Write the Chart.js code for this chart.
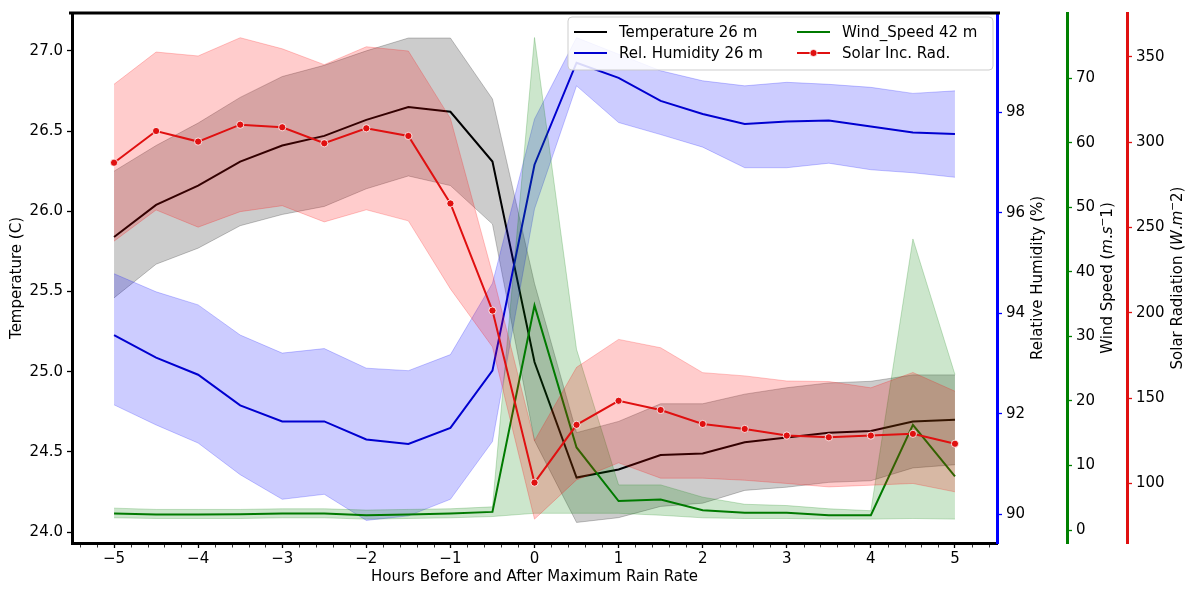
<!DOCTYPE html>
<html><head><meta charset="utf-8">
<script src="https://cdn.jsdelivr.net/npm/chart.js@4.4.1/dist/chart.umd.min.js"></script>
<style>html,body{margin:0;padding:0;background:#fff;}#wrap{width:1191px;height:589px;}</style>
</head><body><div id="wrap"><canvas id="c" width="1191" height="589"></canvas></div>
<script>
const hours = [-5,-4.5,-4,-3.5,-3,-2.5,-2,-1.5,-1,-0.5,0,0.5,1,1.5,2,2.5,3,3.5,4,4.5,5];

const tempMean  = [25.84,26.04,26.16,26.31,26.41,26.47,26.57,26.65,26.62,26.31,25.06,24.34,24.39,24.48,24.49,24.56,24.59,24.62,24.63,24.69,24.70];
const tempUpper = [26.25,26.41,26.55,26.71,26.84,26.91,27.00,27.08,27.08,26.70,25.55,24.62,24.69,24.80,24.80,24.86,24.90,24.93,24.94,24.98,24.98];
const tempLower = [25.46,25.67,25.77,25.91,25.98,26.03,26.14,26.22,26.16,25.92,24.57,24.06,24.09,24.16,24.18,24.26,24.28,24.31,24.32,24.40,24.42];

const humMean  = [93.57,93.12,92.78,92.17,91.85,91.85,91.49,91.40,91.72,92.86,96.96,98.99,98.69,98.23,97.97,97.77,97.82,97.84,97.72,97.60,97.57];
const humUpper = [94.79,94.43,94.17,93.57,93.21,93.30,92.91,92.86,93.18,94.60,97.87,99.49,99.16,98.83,98.63,98.53,98.60,98.56,98.50,98.38,98.43];
const humLower = [92.18,91.78,91.42,90.79,90.30,90.40,89.88,89.97,90.30,91.45,96.08,98.53,97.80,97.56,97.31,96.90,96.90,96.99,96.86,96.80,96.71];

const windMean  = [2.57,2.42,2.42,2.47,2.57,2.57,2.31,2.42,2.57,2.82,34.8,12.8,4.5,4.73,3.08,2.67,2.67,2.31,2.31,16.3,8.32];
const windUpper = [3.4,3.2,3.2,3.2,3.3,3.3,3.1,3.2,3.3,3.6,76.3,28.0,7.0,7.0,5.1,4.0,3.8,3.3,3.0,45.1,24.1];
const windLower = [1.9,1.8,1.8,1.8,1.9,1.9,1.7,1.8,1.9,2.1,2.6,2.6,2.6,2.3,1.9,1.8,1.8,1.7,1.7,1.8,1.7];

const solarMean  = [288.0,306.6,300.4,310.3,308.8,299.4,308.2,303.7,264.1,201.3,100.4,134.3,148.4,143.0,134.8,131.9,128.0,127.0,128.0,129.0,123.2];
const solarUpper = [334.0,352.9,350.6,361.3,354.8,345.5,356.0,353.5,314.0,223.0,125.0,168.0,184.4,179.5,164.9,163.0,160.0,159.7,156.0,165.0,154.0];
const solarLower = [242.0,260.3,250.2,259.3,262.8,253.3,260.4,253.9,214.0,180.0,79.0,102.0,112.0,103.0,103.0,101.8,99.9,97.9,98.9,99.9,95.0];

const hourTicks  = [-5,-4,-3,-2,-1,0,1,2,3,4,5];
const tempTicks  = [24.0,24.5,25.0,25.5,26.0,26.5,27.0];
const humTicks   = [90,92,94,96,98];
const windTicks  = [0,10,20,30,40,50,60,70];
const solarTicks = [100,150,200,250,300,350];

const FONT = '"DejaVu Sans", sans-serif';
Chart.defaults.font.family = FONT;
Chart.defaults.color = '#000';

const pts = arr => hours.map((h, i) => ({x: h, y: arr[i]}));

function bandSets(upper, lower, axis, rgb, order) {
  return [
    {label: '_u', data: pts(upper), yAxisID: axis, fill: '+1', backgroundColor: `rgba(${rgb},0.2)`,
     borderColor: `rgba(${rgb},0.22)`, borderWidth: 1, pointRadius: 0, order: order},
    {label: '_l', data: pts(lower), yAxisID: axis, fill: false,
     borderColor: `rgba(${rgb},0.22)`, borderWidth: 1, pointRadius: 0, order: order + 1}
  ];
}

const datasets = [
  ...bandSets(tempUpper, tempLower, 'yT', '0,0,0', 12),
  {label: 'Temperature 26 m', data: pts(tempMean), yAxisID: 'yT', borderColor: '#000', borderWidth: 2, pointRadius: 0, fill: false, order: 11},
  ...bandSets(humUpper, humLower, 'yH', '0,0,255', 9),
  {label: 'Rel. Humidity 26 m', data: pts(humMean), yAxisID: 'yH', borderColor: '#0000d0', borderWidth: 2, pointRadius: 0, fill: false, order: 8},
  ...bandSets(windUpper, windLower, 'yW', '0,128,0', 6),
  {label: 'Wind_Speed 42 m', data: pts(windMean), yAxisID: 'yW', borderColor: '#007a00', borderWidth: 2, pointRadius: 0, fill: false, order: 5},
  ...bandSets(solarUpper, solarLower, 'yS', '255,0,0', 3),
  {label: 'Solar Inc. Rad.', data: pts(solarMean), yAxisID: 'yS', borderColor: '#e01010', borderWidth: 2,
   pointRadius: 3.6, pointBackgroundColor: '#e01010', pointBorderColor: '#fff', pointBorderWidth: 0.8, fill: false, order: 1}
];

const minorTicks = [];
for (let i = -27; i <= 27; i++) minorTicks.push(Math.round(i * 2) / 10);
const isMajor = v => hourTicks.some(t => Math.abs(t - v) < 1e-6);
const fmtNum = v => (v < 0 ? '\u2212' : '') + Math.abs(v);

function yAxis(pos, min, max, tickArr, color, width, weight, fmt) {
  return {
    type: 'linear', position: pos, min: min, max: max, weight: weight,
    afterBuildTicks: ax => { ax.ticks = tickArr.map(v => ({value: v})); },
    afterFit: s => { s.width = width; },
    ticks: {font: {size: 15}, color: '#000', padding: 4, callback: fmt},
    grid: {drawOnChartArea: false, drawTicks: true, tickLength: 5, tickWidth: 1.3, tickColor: color},
    border: {display: true, color: color, width: 3}
  };
}

function drawRich(ctx, segs, cx, cy, size) {
  let total = 0;
  const meas = segs.map(s => {
    const sz = s.sup ? size * 0.7 : size;
    ctx.font = `${s.it ? 'italic ' : ''}${sz}px ${FONT}`;
    const w = ctx.measureText(s.t).width;
    total += w;
    return {w, sz};
  });
  ctx.save();
  ctx.translate(cx, cy);
  ctx.rotate(-Math.PI / 2);
  ctx.textBaseline = 'middle';
  ctx.textAlign = 'left';
  ctx.fillStyle = '#000';
  let x = -total / 2;
  segs.forEach((s, i) => {
    ctx.font = `${s.it ? 'italic ' : ''}${meas[i].sz}px ${FONT}`;
    ctx.fillText(s.t, x, s.sup ? -5 : 0);
    x += meas[i].w;
  });
  ctx.restore();
}

const overlay = {
  id: 'overlay',
  afterDraw(chart) {
    const ctx = chart.ctx, ca = chart.chartArea;
    ctx.save();
    // top spine
    ctx.strokeStyle = '#000';
    ctx.lineWidth = 3;
    ctx.beginPath();
    ctx.moveTo(ca.left - 3, ca.top);
    ctx.lineTo(ca.right + 3, ca.top);
    ctx.stroke();
    // minor x ticks
    const sx = chart.scales.x;
    ctx.lineWidth = 0.8;
    ctx.beginPath();
    minorTicks.filter(v => !isMajor(v)).forEach(v => {
      const px = Math.round(sx.getPixelForValue(v)) + 0.5;
      ctx.moveTo(px, ca.bottom + 1.5);
      ctx.lineTo(px, ca.bottom + 4.5);
    });
    ctx.stroke();

    const midY = (ca.top + ca.bottom) / 2;
    const sH = chart.scales.yH, sW = chart.scales.yW, sS = chart.scales.yS;
    drawRich(ctx, [{t: 'Relative Humidity (%)'}], sH.left + 41, midY, 15);
    drawRich(ctx, [{t: 'Wind Speed ('}, {t: 'm', it: 1}, {t: '.'}, {t: 's', it: 1}, {t: '\u2212', sup: 1}, {t: '1)'}], sW.left + 41, midY, 15);
    drawRich(ctx, [{t: 'Solar Radiation ('}, {t: 'W', it: 1}, {t: '.'}, {t: 'm', it: 1}, {t: '\u2212', sup: 1}, {t: '2)'}], sS.left + 51, midY, 15);

    // legend
    const lx = 568, ly = 17, lw = 425, lh = 53;
    ctx.beginPath();
    ctx.roundRect(lx, ly, lw, lh, 4);
    ctx.fillStyle = 'rgba(255,255,255,0.85)';
    ctx.fill();
    ctx.strokeStyle = 'rgba(200,200,200,0.9)';
    ctx.lineWidth = 1;
    ctx.stroke();
    const mains = chart.data.datasets.filter(d => d.label[0] !== '_');
    const byLabel = l => mains.find(d => d.label === l);
    const items = [
      [byLabel('Temperature 26 m'), 574, 32],
      [byLabel('Rel. Humidity 26 m'), 574, 53],
      [byLabel('Wind_Speed 42 m'), 797, 32],
      [byLabel('Solar Inc. Rad.'), 797, 53]
    ];
    ctx.font = `15px ${FONT}`;
    ctx.textBaseline = 'middle';
    ctx.textAlign = 'left';
    items.forEach(([d, x, y]) => {
      ctx.strokeStyle = d.borderColor;
      ctx.lineWidth = 2;
      ctx.beginPath();
      ctx.moveTo(x, y);
      ctx.lineTo(x + 33, y);
      ctx.stroke();
      if (d.pointRadius > 0) {
        ctx.beginPath();
        ctx.arc(x + 16.5, y, 3.6, 0, Math.PI * 2);
        ctx.fillStyle = d.pointBackgroundColor;
        ctx.fill();
        ctx.strokeStyle = '#fff';
        ctx.lineWidth = 0.8;
        ctx.stroke();
      }
      ctx.fillStyle = '#000';
      ctx.fillText(d.label, x + 45, y + 1);
    });
    ctx.restore();
  }
};

new Chart(document.getElementById('c'), {
  type: 'line',
  data: {datasets: datasets},
  options: {
    responsive: false,
    animation: false,
    devicePixelRatio: 1,
    layout: {padding: {top: 10, left: 0, right: 0, bottom: 0}},
    elements: {line: {tension: 0}},
    plugins: {legend: {display: false}, tooltip: {enabled: false}},
    scales: {
      x: {
        type: 'linear', position: 'bottom', min: -5.5, max: 5.5,
        afterBuildTicks: ax => { ax.ticks = hourTicks.map(v => ({value: v})); },
        afterFit: s => { s.height = 46; },
        ticks: {autoSkip: false, maxRotation: 0, font: {size: 15}, color: '#000', padding: 2,
                callback: v => fmtNum(Math.round(v))},
        grid: {drawOnChartArea: false, drawTicks: true, tickLength: 5, tickWidth: 1.3, tickColor: '#000'},
        border: {display: true, color: '#000', width: 3},
        title: {display: true, text: 'Hours Before and After Maximum Rain Rate', font: {size: 15}, color: '#000', padding: {top: 0, bottom: 3}}
      },
      yT: Object.assign(yAxis('left', 23.932, 27.236, tempTicks, '#000', 72, 0, v => v.toFixed(1)), {
        title: {display: true, text: 'Temperature (C)', font: {size: 15}, color: '#000', padding: {top: 8, bottom: 0}}
      }),
      yH: yAxis('right', 89.43, 99.98, humTicks, '#0000ff', 70, 0, v => String(v)),
      yW: yAxis('right', -2.0, 80.1, windTicks, '#008000', 60, 1, v => String(v)),
      yS: yAxis('right', 65.0, 375.8, solarTicks, '#e01010', 64, 2, v => String(v))
    }
  },
  plugins: [overlay]
});
</script>
</body></html>
